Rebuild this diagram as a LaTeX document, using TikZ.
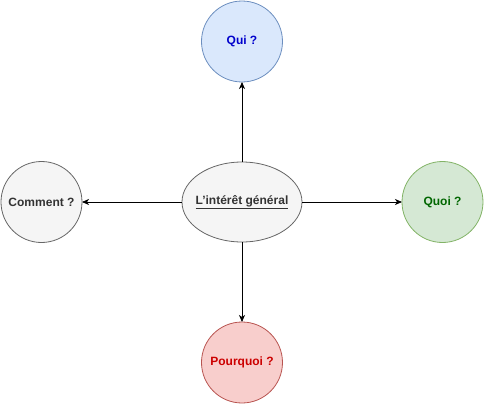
\documentclass[tikz,border=0pt]{standalone}
\usepackage{fontspec}
\setmainfont{Liberation Sans}
\usetikzlibrary{positioning,shapes.geometric,arrows.meta}

\definecolor{bluefill}{HTML}{DAE8FC}
\definecolor{bluedraw}{HTML}{6C8EBF}
\definecolor{bluetext}{HTML}{0000CC}
\definecolor{greenfill}{HTML}{D5E8D4}
\definecolor{greendraw}{HTML}{82B366}
\definecolor{greentext}{HTML}{006600}
\definecolor{redfill}{HTML}{F8CECC}
\definecolor{reddraw}{HTML}{B85450}
\definecolor{redtext}{HTML}{CC0000}
\definecolor{grayfill}{HTML}{F5F5F5}
\definecolor{graydraw}{HTML}{666666}
\definecolor{graytext}{HTML}{333333}

\begin{document}
\begin{tikzpicture}[main/.style = {draw, circle, minimum size=81pt, inner sep=0pt, outer sep=0pt, line width=0.8pt, font=\fontsize{12}{14}\selectfont\bfseries},
        link/.style = {-{Stealth[length=7pt,width=6pt,inset=2pt]}, line width=0.8pt}]
        \useasboundingbox (-242pt,202pt) rectangle (243pt,-203pt);
        \node[main, ellipse, minimum width=120pt, minimum height=80pt, fill=grayfill, draw=graydraw, text=graytext] (gen) at (0,0) {\makebox[0pt]{\underline{L'intérêt général}}};
        \node[main, fill=bluefill, draw=bluedraw, text=bluetext] (qui) [above=80pt of gen] {Qui ?};
        \node[main, fill=greenfill, draw=greendraw, text=greentext] (quoi) [right=100pt of gen] {Quoi ?};
        \node[main, fill=redfill, draw=reddraw, text=redtext] (pourquoi) [below=80pt of gen] {Pourquoi ?};
        \node[main, fill=grayfill, draw=graydraw, text=graytext] (comment) [left=100pt of gen] {Comment ?};
        \draw[link] (gen) -- (qui);
        \draw[link] (gen) -- (quoi);
        \draw[link] (gen) -- (pourquoi);
        \draw[link] (gen) -- (comment);
\end{tikzpicture}
\end{document}
